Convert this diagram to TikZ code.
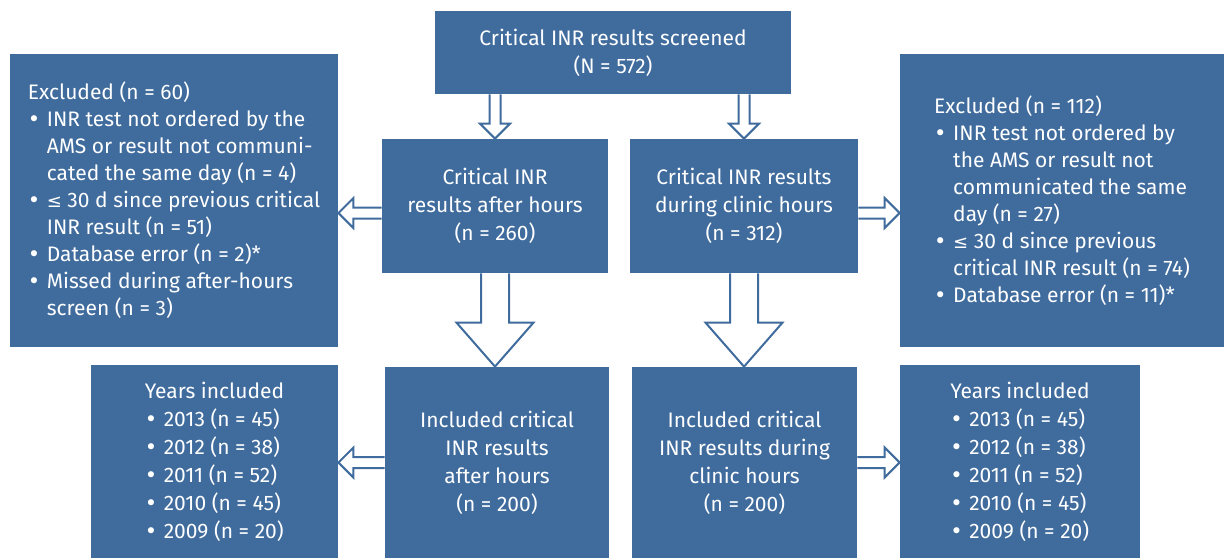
\documentclass[tikz,border=0pt]{standalone}
\usepackage{fontspec}
\setmainfont{Fira Sans}
\newfontfamily\symfont{DejaVu Sans}
\usetikzlibrary{calc}
\definecolor{boxblue}{HTML}{3F6B9D}

% hollow block arrow: tail, tip, shaft half width, head half width, head length
\newcommand{\blockarrow}[5]{%
\coordinate (ba-h) at ($(#2)!#5!(#1)$);
\draw[hollow] ($(#1)!#3!90:(#2)$) -- ($(ba-h)!#3!-90:(#1)$) -- ($(ba-h)!#4!-90:(#1)$) -- (#2)
  -- ($(ba-h)!#4!90:(#1)$) -- ($(ba-h)!#3!90:(#1)$) -- ($(#1)!#3!-90:(#2)$);}

\newcommand{\itm}{\makebox[9.5pt][l]{\symfont •}}
\newcommand{\cnt}{\hspace*{9.5pt}}
\newcommand{\lte}{{\symfont\small ≤}}
\newcommand{\yearsincl}{Years included\\\itm 2013 (n = 45)\\\itm 2012 (n = 38)\\\itm 2011 (n = 52)\\\itm 2010 (n = 45)\\\itm 2009 (n = 20)}

\begin{document}
\begin{tikzpicture}[x=0.5pt,y=-0.5pt,
  box/.style={fill=boxblue, text=white, inner sep=0pt, align=center, font=\fontsize{10.5}{14}\selectfont},
  exbox/.style={box, align=left, font=\fontsize{10.5}{13.5}\selectfont},
  hollow/.style={draw=boxblue, fill=white, line width=1pt, line join=miter}]
\useasboundingbox (0,0) rectangle (1224,558);

\node[box, minimum width=178pt, minimum height=41.5pt] (screened) at (613,52.5) {Critical INR results screened\\(N = 572)};

\node[box, minimum width=113pt, minimum height=67pt] (ah) at (495,206) {Critical INR\\results after hours\\(n = 260)};
\node[box, minimum width=114pt, minimum height=67pt] (ch) at (744,206) {Critical INR results\\during clinic hours\\(n = 312)};

\node[exbox, minimum width=164pt, minimum height=146.5pt] (exl) at (174,200.5) {Excluded (n = 60)\\
\itm INR test not ordered by the\\\cnt AMS or result not communi-\\\cnt cated the same day (n = 4)\\
\itm \lte\ 30 d since previous critical\\\cnt INR result (n = 51)\\
\itm Database error (n = 2)*\\
\itm Missed during after-hours\\\cnt screen (n = 3)};
\node[exbox, minimum width=162pt, minimum height=146.5pt] (exr) at (1062,200.5) {Excluded (n = 112)\\
\itm INR test not ordered by\\\cnt the AMS or result not\\\cnt communicated the same\\\cnt day (n = 27)\\
\itm \lte\ 30 d since previous\\\cnt critical INR result (n = 74)\\
\itm Database error (n = 11)*};

\node[box, minimum width=112pt, minimum height=95.5pt] (ia) at (497,462.5) {Included critical\\INR results\\after hours\\(n = 200)};
\node[box, minimum width=112.5pt, minimum height=95.5pt] (ic) at (744.5,462.5) {Included critical\\INR results during\\clinic hours\\(n = 200)};
\node[box, align=left, minimum width=123.5pt, minimum height=96.5pt] (yl) at (214.5,461.5) {\yearsincl};
\node[box, align=left, minimum width=120pt, minimum height=96.5pt] (yr) at (1020,461.5) {\yearsincl};

\coordinate (t1) at (ah.north |- screened.south);
\coordinate (t2) at (ch.north |- screened.south);
\foreach \t/\h in {t1/ah.north, t2/ch.north}{\blockarrow{\t}{\h}{2.75pt}{7.5pt}{7.5pt}}

\coordinate (b1) at (ah.south |- ia.north);
\coordinate (b2) at (ch.south |- ic.north);
\foreach \t/\h in {ah.south/b1, ch.south/b2}{\blockarrow{\t}{\h}{7pt}{19.25pt}{22pt}}

\coordinate (sl) at ($(ah.west)+(0,7)$);
\coordinate (sr) at ($(ch.east)+(0,7)$);
\coordinate (el) at (exl.east |- sl);
\coordinate (er) at (exr.west |- sr);
\coordinate (yle) at (yl.east |- ia.west);
\coordinate (yre) at (yr.west |- ic.east);
\foreach \t/\h in {sl/el, sr/er, ia.west/yle, ic.east/yre}{\blockarrow{\t}{\h}{2.75pt}{7.5pt}{7.5pt}}
\end{tikzpicture}
\end{document}
